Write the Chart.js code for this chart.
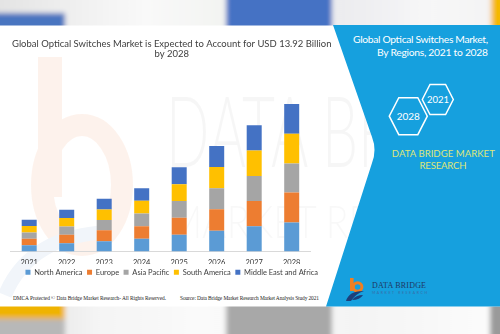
<!DOCTYPE html>
<html>
<head>
<meta charset="utf-8">
<script src="https://cdn.jsdelivr.net/npm/chart.js@4.4.1/dist/chart.umd.min.js"></script>
<style>
  html, body { margin: 0; padding: 0; background: #fff; }
  #wrap { position: relative; width: 500px; height: 334px; overflow: hidden; background: #fff; }
  #deco { position: absolute; left: 0; top: 0; }
  #chart { position: absolute; left: 0; top: 25px; }
</style>
</head>
<body>
<div id="wrap">
<svg id="deco" width="500" height="334" viewBox="0 0 500 334">
  <defs>
    <filter id="blur" x="-20%" y="-100%" width="140%" height="300%"><feGaussianBlur stdDeviation="2.5"/></filter>
    <clipPath id="topClip"><rect x="0" y="0" width="500" height="25.5"/></clipPath>
    <clipPath id="botClip"><rect x="0" y="306.5" width="500" height="28"/></clipPath>
    <linearGradient id="topBg" x1="0" x2="1" y1="0" y2="0">
      <stop offset="0" stop-color="#e2e2e2"/>
      <stop offset="0.18" stop-color="#f1f1f1"/>
      <stop offset="0.3" stop-color="#f9f9f9"/>
      <stop offset="0.44" stop-color="#f3f4f2"/>
      <stop offset="0.68" stop-color="#ececef"/>
      <stop offset="0.85" stop-color="#f7f7f8"/>
      <stop offset="1" stop-color="#f2f2f2"/>
    </linearGradient>
    <linearGradient id="botBg" x1="0" x2="1" y1="0" y2="0">
      <stop offset="0" stop-color="#d8d8d8"/>
      <stop offset="0.2" stop-color="#f4f4f4"/>
      <stop offset="0.4" stop-color="#fafafa"/>
      <stop offset="0.7" stop-color="#f4f4f4"/>
      <stop offset="0.95" stop-color="#fbfbfb"/>
    </linearGradient>
  </defs>

  <!-- marca d'agua bem fraca -->
  <g opacity="0.22">
    <rect x="38" y="57" width="24" height="140" fill="#f8c8ad"/>
    <ellipse cx="82" cy="185" rx="40" ry="60" fill="none" stroke="#f8c8ad" stroke-width="22"/>
  </g>
  <path d="M5,295 Q30,235 110,232" fill="none" stroke="#f1f5fa" stroke-width="14"/>
  <text x="166" y="167" font-family="Lato" font-weight="300" font-size="98" fill="#000" opacity="0.03"
        textLength="360" lengthAdjust="spacingAndGlyphs">DATA BRIDGE</text>
  <text x="168" y="238" font-family="Lato" font-weight="300" font-size="46" fill="#000" opacity="0.025"
        textLength="345" lengthAdjust="spacingAndGlyphs">MARKET RESEARCH</text>

  <!-- faixa de cima borrada -->
  <g clip-path="url(#topClip)">
    <g filter="url(#blur)">
      <rect x="-10" y="-10" width="520" height="45" fill="url(#topBg)"/>
      <rect x="-10" y="13" width="75" height="25" fill="#4a74c0"/>
      <rect x="226" y="-10" width="106" height="45" fill="#4472c4"/>
      <rect x="491" y="-10" width="20" height="45" fill="#f5b800"/>
    </g>
  </g>

  <!-- faixa de baixo borrada -->
  <g clip-path="url(#botClip)">
    <g filter="url(#blur)">
      <rect x="-10" y="300" width="520" height="45" fill="url(#botBg)"/>
      <rect x="-10" y="300" width="75" height="19" fill="#efb300"/>
      <rect x="-10" y="319" width="75" height="25" fill="#b8b8b8"/>
      <rect x="226" y="300" width="106" height="45" fill="#a8a8a8"/>
      <rect x="490" y="300" width="20" height="45" fill="#9a9a9a"/>
    </g>
  </g>

  <!-- painel azul -->
  <path d="M333,25 L372,137 Q377,150 372,163 L326,306.5 L500,306.5 L500,25 Z" fill="#16a0de"/>

  <text x="488" y="42.5" text-anchor="end" font-family="Lato" font-size="10.3" fill="#fff"
        textLength="135">Global Optical Switches Market,</text>
  <text x="488" y="55.5" text-anchor="end" font-family="Lato" font-size="10.3" fill="#fff"
        textLength="111">By Regions, 2021 to 2028</text>

  <polygon points="422.3,99.5 430,84.5 445.6,84.5 453.3,99.5 445.6,114.5 430,114.5"
           fill="none" stroke="#fff" stroke-width="1.5"/>
  <polygon points="389.3,116.2 398.8,97.7 417.8,97.7 427.3,116.2 417.8,134.7 398.8,134.7"
           fill="none" stroke="#fff" stroke-width="1.5"/>
  <text x="438" y="103" text-anchor="middle" font-family="Lato" font-size="9.5" fill="#fff">2021</text>
  <text x="408.3" y="119.8" text-anchor="middle" font-family="Lato" font-size="10" fill="#fff">2028</text>

  <text x="443.3" y="156.8" text-anchor="middle" font-family="Lato" font-size="9.6" fill="#dfe67a"
        textLength="103">DATA BRIDGE MARKET</text>
  <text x="443" y="169.2" text-anchor="middle" font-family="Lato" font-size="9.6" fill="#dfe67a"
        textLength="47">RESEARCH</text>

  <!-- rodape -->
  <text x="13" y="300" font-family="Liberation Serif" font-size="5.4" fill="#222"
        textLength="153">DMCA Protected © Data Bridge Market Research- All Rights Reserved.</text>
  <text x="180" y="300" font-family="Liberation Serif" font-size="5.4" fill="#222"
        textLength="139">Source: Data Bridge Market Research Market Analysis Study 2021</text>

  <!-- logo -->
  <rect x="350" y="278" width="3.6" height="13" fill="#f07f21"/>
  <circle cx="357.6" cy="287" r="4.3" fill="none" stroke="#f07f21" stroke-width="3"/>
  <path d="M346,301 Q349,290.5 364,291 Q356,293.5 351,301 Z" fill="#1d3f7a"/>
  <path d="M352,300 Q356,295 363,295 Q360,300 352,300 Z" fill="#1d3f7a"/>
  <text x="372" y="287.8" font-family="Liberation Serif" font-size="8" fill="#1f3864"
        textLength="54">DATA BRIDGE</text>
  <text x="372" y="294.3" font-family="Lato" font-size="3.4" fill="#3b6aa3"
        textLength="55">MARKET RESEARCH</text>
</svg>
<canvas id="chart" width="333" height="261"></canvas>
</div>

<script>
// dados (USD bilhões)
const years = ['2021', '2022', '2023', '2024', '2025', '2026', '2027', '2028'];
const northAmerica = [0.60, 0.79, 0.98, 1.21, 1.59, 1.97, 2.38, 2.73];
const europe       = [0.60, 0.79, 1.02, 1.17, 1.59, 2.03, 2.38, 2.85];
const asiaPacific  = [0.60, 0.79, 0.98, 1.21, 1.59, 1.97, 2.38, 2.73];
const southAmerica = [0.60, 0.79, 0.98, 1.21, 1.59, 2.00, 2.41, 2.82];
const middleEastAfrica = [0.60, 0.79, 1.02, 1.17, 1.59, 2.00, 2.38, 2.79];
const regions = ['North America', 'Europe', 'Asia Pacific', 'South America', 'Middle East and Africa'];
const colors = ['#5b9bd5', '#ed7d31', '#a5a5a5', '#ffc000', '#4472c4'];
const titleLines = ['Global Optical Switches Market is Expected to Account for USD 13.92 Billion', 'by 2028'];
const yMax = 14.26;

const series = [northAmerica, europe, asiaPacific, southAmerica, middleEastAfrica];

const probe = document.createElement('canvas').getContext('2d');
function fitSize(text, family, width) {
  probe.font = '100px ' + family;
  return 100 * width / probe.measureText(text).width;
}
const titleSize = fitSize(titleLines[0], 'Lato', 320);
const legendSize = fitSize('Middle East and Africa', 'Lato', 74);

new Chart(document.getElementById('chart'), {
  type: 'bar',
  data: {
    labels: years,
    datasets: regions.map((r, i) => ({
      label: r, data: series[i], backgroundColor: colors[i], borderWidth: 0,
      categoryPercentage: 0.5, barPercentage: 0.8,
    })),
  },
  options: {
    responsive: false, animation: false,
    layout: { padding: { left: 10.45, right: 0, top: 0, bottom: 0 } },
    plugins: {
      title: {
        display: true, text: titleLines, color: '#404040',
        font: { family: 'Lato', size: titleSize, weight: 'normal', lineHeight: 10 / titleSize },
        padding: { top: 14, bottom: 41.5 },
      },
      legend: {
        position: 'bottom',
        labels: { boxWidth: 5, boxHeight: 5, padding: 4.5, color: '#404040', font: { family: 'Lato', size: legendSize } },
      },
      tooltip: { enabled: false },
    },
    scales: {
      x: {
        stacked: true,
        grid: { display: false, drawTicks: false },
        border: { display: true, color: '#d9d9d9', width: 1 },
        ticks: { color: '#333', font: { family: 'Lato', size: 7.5 }, padding: 7 },
        afterFit: s => { s.height = 12.5; },
      },
      y: { stacked: true, display: false, min: 0, max: yMax },
      pad: {
        type: 'linear', position: 'right', display: true,
        grid: { display: false }, border: { display: false }, ticks: { display: false },
        afterFit: s => { s.width = 22.55; },
      },
    },
  },
});
</script>
</body>
</html>
